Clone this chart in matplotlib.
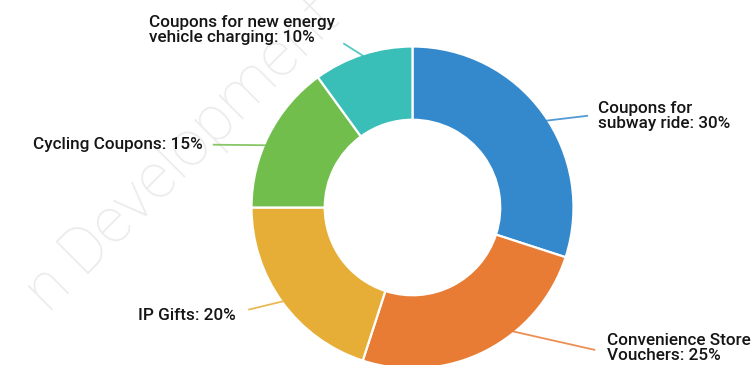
import numpy as np
import matplotlib
matplotlib.use("Agg")
import matplotlib.pyplot as plt

plt.rcParams["font.family"] = ["Roboto", "DejaVu Sans"]

# share of each coupon type, clockwise from 12 o'clock
labels = [
    "Coupons for\nsubway ride: 30%",
    "Convenience Store\nVouchers: 25%",
    "IP Gifts: 20%",
    "Cycling Coupons: 15%",
    "Coupons for new energy\nvehicle charging: 10%",
]
shares = [30, 25, 20, 15, 10]
colors = ["#3488cc", "#e87c34", "#e6ae36", "#72be4c", "#3abeb8"]

# where each label text and its leader line end sit (pie radius = 1)
text_xy = [(1.15, 0.57), (1.21, -0.875), (-1.095, -0.67), (-1.305, 0.39), (-0.48, 1.10)]
line_end = [(1.09, 0.57), (1.135, -0.885), (-1.02, -0.635), (-1.24, 0.39), (-0.43, 1.02)]
text_ha = ["left", "left", "right", "right", "right"]
# small shift (deg) of the leader's root away from the slice middle
leader_nudge = [-3, 12, 0, 4, 0]

fig = plt.figure(figsize=(7.56, 3.65), dpi=100)
ax = fig.add_axes([0, 0, 1, 1])

# faint diagonal watermark behind the chart
ax.text(-1.43, 0.33, "n Development", rotation=45, fontsize=46, color="#ebebeb",
        ha="center", va="center", fontweight="light", zorder=0)

wedges, _ = ax.pie(
    shares,
    colors=colors,
    startangle=90,
    counterclock=False,
    radius=1.0,
    wedgeprops=dict(width=0.455, edgecolor="white", linewidth=1.6),
)

for w, lab, col, txy, lend, ha, dn in zip(wedges, labels, colors, text_xy,
                                           line_end, text_ha, leader_nudge):
    mid = np.deg2rad((w.theta1 + w.theta2) / 2 + dn)
    start = (np.cos(mid) * 0.99, np.sin(mid) * 0.99)
    ax.plot([start[0], lend[0]], [start[1], lend[1]], color=col, lw=1.3, alpha=0.85,
            solid_capstyle="butt", zorder=1)
    ax.text(txy[0], txy[1], lab, ha=ha, va="center", multialignment="left",
            fontsize=12.3, fontweight="medium", color="#151515", linespacing=1.0)

# 1 data unit = 161 px, pie centre at (412.5, 207.5) px
ax.set_xlim(-412.5 / 161, (756 - 412.5) / 161)
ax.set_ylim(-(365 - 207.5) / 161, 207.5 / 161)
ax.set_aspect("equal")
ax.axis("off")

fig.savefig("out.png", dpi=100, facecolor="white")
